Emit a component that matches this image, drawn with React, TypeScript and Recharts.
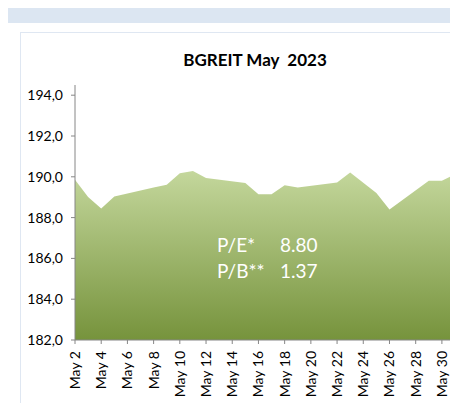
import React from 'react';
import { AreaChart, Area, XAxis, YAxis } from 'recharts';

// trading days in May 2023 and closing index values
const days = [2, 3, 4, 5, 8, 9, 10, 11, 12, 15, 16, 17, 18, 19, 22, 23, 25, 26, 29, 30, 31];
const closes = [
  189.85, 189.01, 188.45, 189.04, 189.47, 189.61, 190.18, 190.29, 189.94, 189.69, 189.14,
  189.14, 189.58, 189.48, 189.72, 190.21, 189.21, 188.4, 189.81, 189.81, 190.13,
];
const dayTicks = [2, 4, 6, 8, 10, 12, 14, 16, 18, 20, 22, 24, 26, 28, 30];
const valueTicks = [182, 184, 186, 188, 190, 192, 194];

const FONT = 'Lato, "Open Sans", sans-serif';

const DayTick = (props: any) => {
  const { x, y, payload } = props;
  return (
    <text
      x={0}
      y={0}
      transform={`translate(${x + 5},${y + 5}) rotate(-90)`}
      textAnchor="end"
      fontSize={14}
      fontFamily={FONT}
      fill="#000"
    >
      {`May ${payload.value}`}
    </text>
  );
};

const App: React.FC = () => {
  const data = days.map((d, i) => ({ day: d, value: closes[i] }));

  return (
    <div
      style={{
        position: 'relative',
        width: 458,
        height: 411,
        margin: -8,
        overflow: 'hidden',
        background: '#fff',
        fontFamily: FONT,
      }}
    >
      <div style={{ position: 'absolute', left: 0, top: 8, width: 458, height: 15, background: '#dce6f2' }} />
      <div
        style={{
          position: 'absolute',
          left: 20,
          top: 32,
          width: 460,
          height: 390,
          border: '1px solid #dfe7f2',
        }}
      />
      <div
        style={{
          position: 'absolute',
          left: 20,
          width: 470,
          top: 49,
          textAlign: 'center',
          fontWeight: 'bold',
          fontSize: 17,
          color: '#000',
          whiteSpace: 'pre',
        }}
      >
        {'BGREIT May  2023'}
      </div>
      <div style={{ position: 'absolute', left: 0, top: 0 }}>
        <AreaChart width={458} height={411} data={data} margin={{ top: 85, right: 3, bottom: 0, left: 0 }}>
          <defs>
            <linearGradient id="greenFill" x1="0" y1="0" x2="0" y2="1">
              <stop offset="0%" stopColor="#c4d79c" />
              <stop offset="100%" stopColor="#76933c" />
            </linearGradient>
          </defs>
          <XAxis
            dataKey="day"
            type="number"
            domain={[2, 31]}
            ticks={dayTicks}
            interval={0}
            height={71}
            tick={<DayTick />}
            tickSize={4}
            axisLine={{ stroke: '#868686' }}
            tickLine={{ stroke: '#868686' }}
          />
          <YAxis
            domain={[182, 194.5]}
            ticks={valueTicks}
            width={75}
            tickSize={4}
            tickMargin={8}
            tickFormatter={(v: number) => v.toFixed(1).replace('.', ',')}
            tick={{ fontSize: 14, fill: '#000', fontFamily: FONT }}
            axisLine={{ stroke: '#868686' }}
            tickLine={{ stroke: '#868686' }}
          />
          <Area
            type="linear"
            dataKey="value"
            baseValue={182}
            stroke="none"
            fill="url(#greenFill)"
            fillOpacity={1}
            isAnimationActive={false}
          />
        </AreaChart>
      </div>
      <div style={{ position: 'absolute', left: 217, top: 232, color: '#fff', fontSize: 19, lineHeight: '26px' }}>
        <div>
          <span style={{ display: 'inline-block', width: 63 }}>P/E*</span>8.80
        </div>
        <div>
          <span style={{ display: 'inline-block', width: 63 }}>P/B**</span>1.37
        </div>
      </div>
    </div>
  );
};

export default App;
